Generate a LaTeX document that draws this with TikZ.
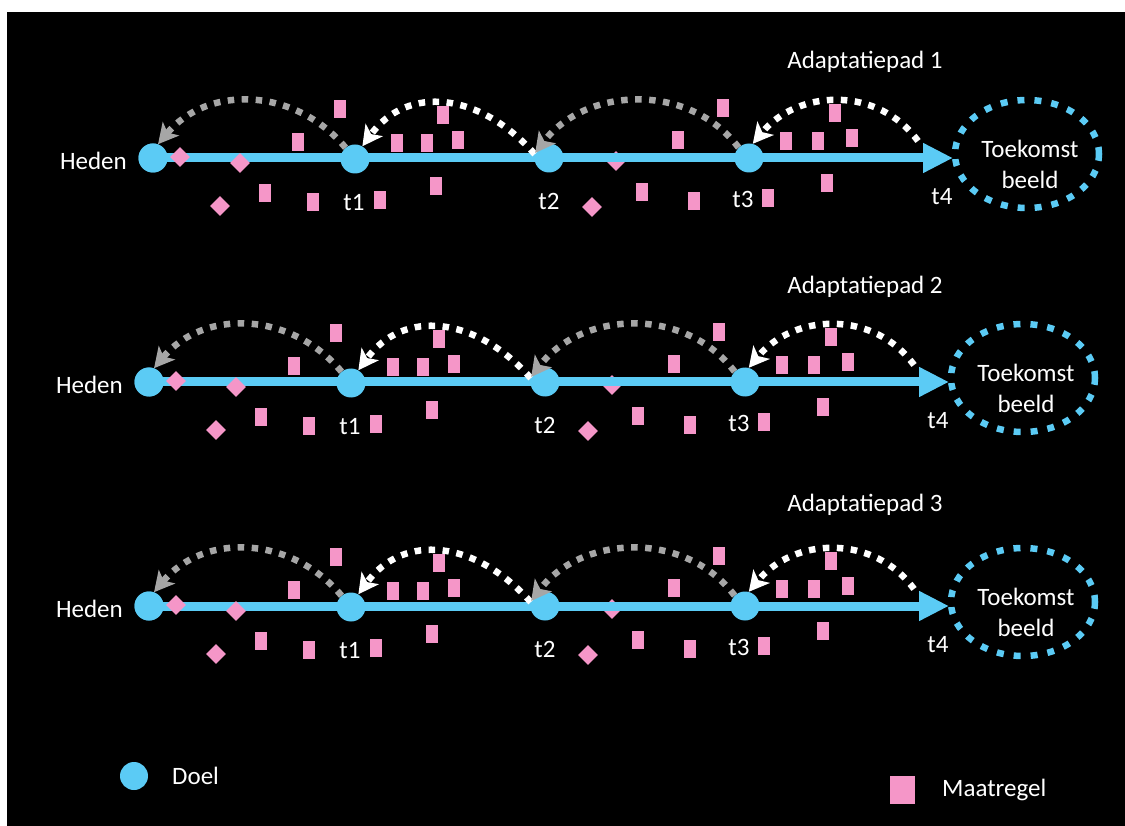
\documentclass[tikz,border=0pt]{standalone}
\usepackage{fontspec}
\setmainfont{Carlito}
\usetikzlibrary{arrows.meta,shapes.geometric,calc}
\definecolor{doelblue}{HTML}{5BCBF5}
\definecolor{maatpink}{HTML}{F596C8}
\definecolor{arcgray}{HTML}{A6A6A6}
\tikzset{
  doel/.style={circle, fill=doelblue, minimum size=29pt, inner sep=0pt},
  maat/.style={rectangle, fill=maatpink, minimum width=12pt, minimum height=18pt, inner sep=0pt},
  maatdia/.style={rectangle, fill=maatpink, minimum size=14pt, inner sep=0pt, rotate=45},
  lbl/.style={text=white, font=\fontsize{25}{31}\selectfont, inner sep=0pt},
  mainline/.style={draw=doelblue, line width=9pt, -{Triangle[length=30pt,width=28pt]}},
  backarc/.style={line width=6.5pt, dash pattern=on 6.5pt off 7.5pt, -{Stealth[length=20pt,width=21pt,inset=5pt]}},
  grayarc/.style={backarc, draw=arcgray},
  whitearc/.style={backarc, draw=white},
  future/.style={ellipse, draw=doelblue, line width=6.5pt, dash pattern=on 7pt off 10pt, minimum width=144pt, minimum height=108pt, inner sep=0pt},
}
\begin{document}
\begin{tikzpicture}[x=1pt,y=-1pt]
\useasboundingbox (0,0) rectangle (1125,826);
\fill[white] (0,0) rectangle (1125,826);
\fill[black] (7,12) rectangle (1125,826);

\foreach \r/\dx/\dy in {1/0/0, 2/-4/224, 3/-4/448}{
\begin{scope}[shift={(\dx,\dy)}]
  % diamond behind the line
  \node[maatdia] (db\r) at (616,161) {};
  % points and main line
  \coordinate (t4\r) at (953,158);
  \coordinate (s4\r) at (918,141);
  \node[future] (fut\r) at (1027,154) {};
  \node[lbl, align=center] (futt\r) at (1030,164) {Toekomst\\beeld};
  \node[doel] (h\r) at (153,158) {};
  \draw[mainline] (h\r.center) -- (t4\r);
  \node[doel] (h\r) at (153,158) {};
  \node[doel] (p1\r) at (355,159) {};
  \node[doel] (p2\r) at (549,158) {};
  \node[doel] (p3\r) at (749,158) {};
  % labels
  \node[lbl, anchor=east] (hl\r) at (127,161) {Heden};
  \node[lbl] (l1\r) at (354,203) {t1};
  \node[lbl] (l2\r) at (549,201) {t2};
  \node[lbl] (l3\r) at (743,199) {t3};
  \node[lbl] (l4\r) at (942,197) {t4};
  % back arcs
  \draw[grayarc] (p1\r.130) .. controls +(-50,-60) and +(50,-60) .. (h\r.70);
  \draw[whitearc] (p2\r.165) .. controls +(-55,-62) and +(45,-62) .. (p1\r.60);
  \draw[grayarc] (p3\r.135) .. controls +(-50,-66) and +(50,-66) .. (p2\r.160);
  \draw[whitearc] (s4\r) .. controls +(-40,-55) and +(45,-55) .. (p3\r.75);
  % diamonds
  \foreach \x/\y [count=\i] in {180/157, 240/163, 220/206, 592/207}
    \node[maatdia] (d\r-\i) at (\x,\y) {};
  % rectangles
  \foreach \x/\y [count=\i] in {265/193, 313/202, 298/142, 340/109, 380/200,
      443/115, 397/143, 427/143, 458/140, 436/186,
      642/192, 694/201, 678/140, 723/108,
      835/113, 786/141, 818/141, 852/138, 827/183, 768/198}
    \node[maat] (m\r-\i) at (\x,\y) {};
\end{scope}
}

\node[lbl] (title1) at (865,62) {Adaptatiepad 1};
\node[lbl] (title2) at (865,287) {Adaptatiepad 2};
\node[lbl] (title3) at (865,505) {Adaptatiepad 3};

% legend
\node[doel, minimum size=28pt] (legdoel) at (134,776) {};
\node[lbl, anchor=west] (legdoelt) at (172,776) {Doel};
\node[maat, minimum width=25pt, minimum height=28pt] (legmaat) at (902,790) {};
\node[lbl, anchor=west] (legmaatt) at (942,790) {Maatregel};
\end{tikzpicture}
\end{document}
